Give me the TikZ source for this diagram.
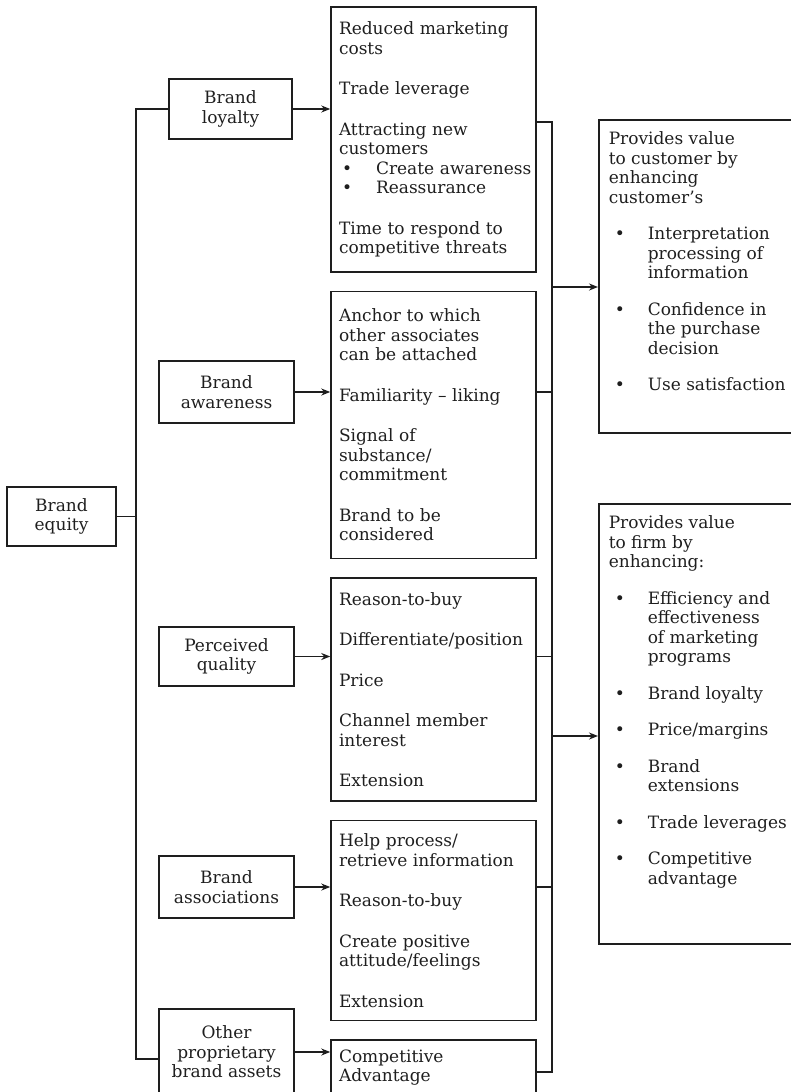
\documentclass[tikz,border=0pt]{standalone}
\usepackage{fontspec}
\setmainfont{DejaVu Serif}
\usepackage{xcolor}
\usepackage{tikz}
\usetikzlibrary{arrows.meta,positioning,calc}
\definecolor{ink}{HTML}{1E1E1E}
\newcommand{\effitem}[1]{\makebox[18.5pt][l]{\hspace{1.5pt}\textbullet}\mbox{#1}}
\newcommand{\valitem}{\par\hangindent=19.5pt\hangafter=1\noindent\makebox[19.5pt][l]{\hspace{3pt}\textbullet}}
\newcommand{\valtext}[2]{\parbox[c][#1][t]{100pt}{\rightskip=0pt plus 1fil\relax\setlength{\parskip}{8.5pt}#2}}
\tikzset{
  srcbox/.style={rectangle,draw=ink,line width=0.75pt,text=ink,align=center,
    font=\fontsize{8.5}{9.75}\selectfont,minimum width=67.5pt,minimum height=31pt,inner sep=2pt},
  effbox/.style={rectangle,draw=ink,line width=0.75pt,text=ink,align=left,
    font=\fontsize{8.5}{9.75}\selectfont,text width=94.5pt,inner xsep=4pt,inner ysep=3pt},
  valbox/.style={rectangle,draw=ink,line width=0.75pt,text=ink,anchor=north west,
    font=\fontsize{8.5}{9.75}\selectfont,inner xsep=5pt,inner ysep=6pt},
  flowarr/.style={-{Stealth[length=4.5pt,width=3.5pt]},line width=0.75pt,color=ink},
  busline/.style={line width=0.75pt,color=ink},
}
\begin{document}
\begin{tikzpicture}[x=0.5pt,y=-0.5pt,node distance=9pt]
  \useasboundingbox (0,0) rectangle (791,1092);
  \clip (0,0) rectangle (791,1092);
  \node[srcbox,minimum width=54.5pt,minimum height=29.5pt] (equity) at (61.5,516.5) {Brand\\equity};
  \node[srcbox,minimum width=61.5pt,minimum height=30pt] (loyal) at (230.5,109) {Brand\\loyalty};
  \node[srcbox] (aware) at (226.5,392) {Brand\\awareness};
  \node[srcbox,minimum height=29.5pt] (quality) at (226.5,656.5) {Perceived\\quality};
  \node[srcbox] (assoc) at (226.5,887) {Brand\\associations};
  \node[srcbox,minimum height=43pt] (other) at (226.5,1052) {Other\\proprietary\\brand assets};
  \node[effbox,minimum height=132.5pt] (m1) at (433.5,139.5) {Reduced marketing\\costs\\[10.5pt]Trade leverage\\[10.5pt]Attracting new\\customers\\\effitem{Create awareness}\\\effitem{Reassurance}\\[10.5pt]Time to respond to\\competitive threats};
  \node[effbox,minimum height=133.5pt,below=of m1] (m2) {Anchor to which\\other associates\\can be attached\\[10.5pt]Familiarity -- liking\\[10.5pt]Signal of\\substance/\\commitment\\[10.5pt]Brand to be\\considered};
  \node[effbox,minimum height=111.5pt,below=of m2] (m3) {Reason-to-buy\\[10.5pt]Differentiate/position\\[10.5pt]Price\\[10.5pt]Channel member\\interest\\[10.5pt]Extension};
  \node[effbox,minimum height=100pt,below=of m3] (m4) {Help process/\\retrieve information\\[10.5pt]Reason-to-buy\\[10.5pt]Create positive\\attitude/feelings\\[10.5pt]Extension};
  \node[effbox,minimum height=27.5pt,below=of m4] (m5) {Competitive\\Advantage};
  \node[valbox] (cust) at (598,119) {\valtext{144.5pt}{Provides value\\to customer by\\enhancing\\customer's\valitem Interpretation\\processing of\\information\valitem Confidence in\\the purchase\\decision\valitem Use satisfaction}};
  \node[valbox] (firm) at (598,503) {\valtext{208pt}{Provides value\\to firm by\\enhancing:\valitem Efficiency and\\effectiveness\\of marketing\\programs\valitem Brand loyalty\valitem Price/margins\valitem Brand\\extensions\valitem Trade leverages\valitem Competitive\\advantage}};
  \coordinate (trunk) at (136,1059);
  \coordinate (bustop) at (552,122);
  \coordinate (busbot) at (552,1072);
  \coordinate (tocust) at (552,287);
  \coordinate (tofirm) at (552,736);
  \draw[busline] (equity.east) -- (equity.east -| trunk);
  \draw[busline] (loyal.west) -| (trunk) -- (trunk -| other.west);
  \draw[flowarr] (loyal.east) -- (loyal.east -| m1.west);
  \draw[flowarr] (aware.east) -- (aware.east -| m2.west);
  \draw[flowarr] (quality.east) -- (quality.east -| m3.west);
  \draw[flowarr] (assoc.east) -- (assoc.east -| m4.west);
  \draw[flowarr] (other.east) -- (other.east -| m5.west);
  \draw[busline] (m1.east |- bustop) -- (bustop) -- (busbot) -- (m5.east |- busbot);
  \draw[busline] (m2.east |- aware) -- (bustop |- aware);
  \draw[busline] (m3.east |- quality) -- (bustop |- quality);
  \draw[busline] (m4.east |- assoc) -- (bustop |- assoc);
  \draw[flowarr] (tocust) -- (tocust -| cust.west);
  \draw[flowarr] (tofirm) -- (tofirm -| firm.west);
\end{tikzpicture}
\end{document}
